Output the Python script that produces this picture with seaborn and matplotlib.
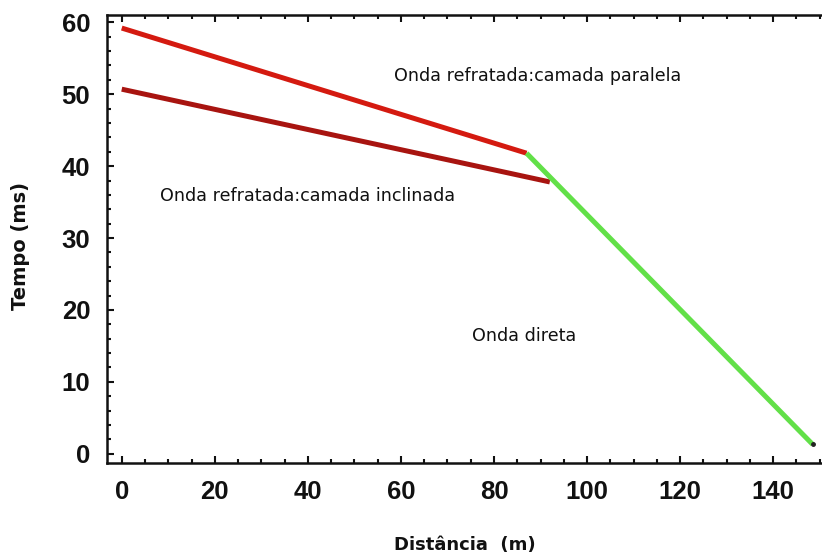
import matplotlib
matplotlib.use("Agg")
import matplotlib.pyplot as plt
from matplotlib.ticker import MultipleLocator
import pandas as pd
import seaborn as sns

# Travel-time curves (distance in m, time in ms)
paralela_x = [0, 87]
paralela_t = [59.2, 41.8]
inclinada_x = [0, 92]
inclinada_t = [50.7, 37.8]
direta_x = [87, 148.5]
direta_t = [41.8, 1.3]

labels = ["Onda refratada:camada paralela",
          "Onda refratada:camada inclinada",
          "Onda direta"]
x_ticks = [0, 20, 40, 60, 80, 100, 120, 140]
y_ticks = [0, 10, 20, 30, 40, 50, 60]

sns.set_theme(style="white")
plt.rcParams["font.family"] = ["DejaVu Sans"]
plt.rcParams["text.color"] = "#111111"
plt.rcParams["axes.labelcolor"] = "#111111"
plt.rcParams["xtick.color"] = "#111111"
plt.rcParams["ytick.color"] = "#111111"

fig = plt.figure(figsize=(8.22, 5.60), dpi=100)
ax = fig.add_axes([0.130, 0.173, 0.870, 0.800])

curves = [
    (paralela_x, paralela_t, "#d41a10"),
    (inclinada_x, inclinada_t, "#a81410"),
    (direta_x, direta_t, "#62e048"),
]
for xs, ts, color in curves:
    df = pd.DataFrame({"x": xs, "t": ts})
    sns.lineplot(data=df, x="x", y="t", ax=ax, color=color, linewidth=3.6,
                 solid_capstyle="butt", sort=False)

ax.plot([direta_x[-1]], [direta_t[-1]], "o", color="#222222", markersize=2.5)

ax.set_xlim(-3.2, 150.5)
ax.set_ylim(-1.3, 61.0)
ax.set_xticks(x_ticks)
ax.set_yticks(y_ticks)
ax.xaxis.set_minor_locator(MultipleLocator(5))
ax.yaxis.set_minor_locator(MultipleLocator(2))

tick_font = dict(family="Liberation Sans", weight="bold", size=18.5,
                 color="#111111")
ax.set_xticklabels([str(v) for v in x_ticks], **tick_font)
ax.set_yticklabels([str(v) for v in y_ticks], **tick_font)

ax.tick_params(which="both", direction="in", top=True, bottom=True,
               left=True, right=False, color="#111111")
ax.tick_params(which="major", length=5, width=1.5, pad=12)
ax.tick_params(which="minor", length=3, width=1.5)

for side in ["left", "bottom", "top"]:
    ax.spines[side].set_visible(True)
    ax.spines[side].set_color("#111111")
    ax.spines[side].set_linewidth(1.8)
ax.spines["right"].set_visible(False)

ax.set_xlabel("Distância  (m)", fontsize=13, fontweight="bold", labelpad=23)
ax.set_ylabel("Tempo (ms)", fontsize=14, fontweight="bold")
ax.yaxis.set_label_coords(-0.107, 0.485)

ax.text(58.5, 52.5, labels[0], fontsize=12.6, ha="left", va="center")
ax.text(8.3, 35.8, labels[1], fontsize=12.6, ha="left", va="center")
ax.text(75.3, 16.4, labels[2], fontsize=12.6, ha="left", va="center")

fig.savefig("out.png", dpi=100)
